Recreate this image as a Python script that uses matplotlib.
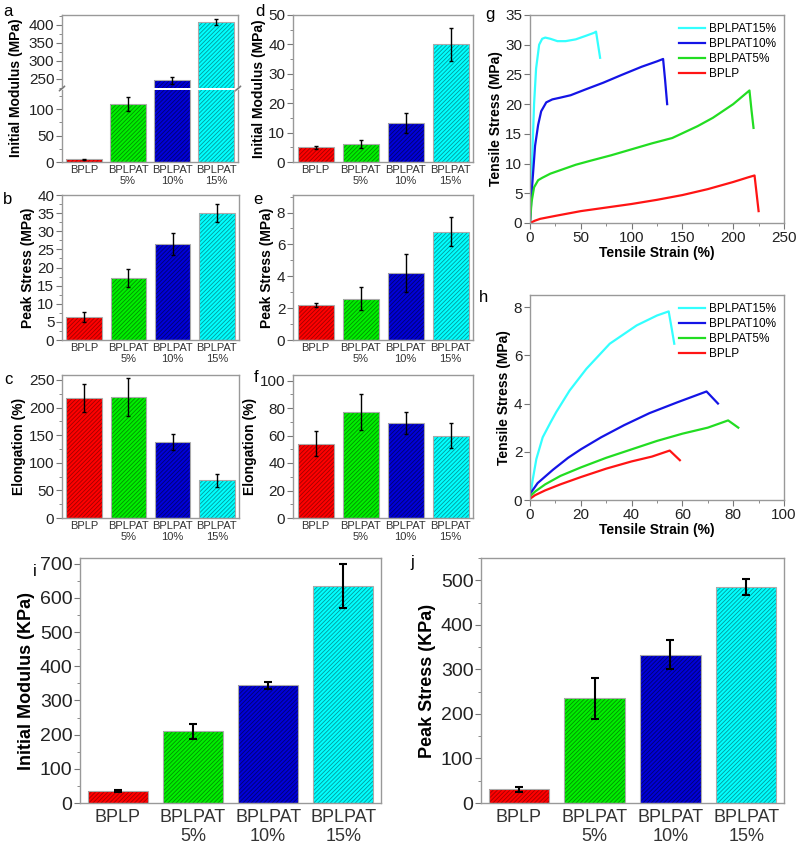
import matplotlib
matplotlib.use('Agg')
import matplotlib.pyplot as plt
from matplotlib.ticker import MultipleLocator

plt.rcParams['font.family'] = ['Liberation Sans', 'DejaVu Sans']
plt.rcParams['hatch.linewidth'] = 0.6

# ---- data ----
groups = ['BPLP', 'BPLPAT\n5%', 'BPLPAT\n10%', 'BPLPAT\n15%']
fill_colors = ['#ff0000', '#00ee00', '#0000d8', '#00ffff']
hatch_colors = ['#a00000', '#009000', '#000070', '#009a9a']

mod_mpa = [5, 110, 245, 408]          # a
mod_mpa_err = [1.5, 13, 10, 8]
stress_mpa = [6.3, 17.1, 26.4, 35.0]  # b
stress_mpa_err = [1.3, 2.6, 3.0, 2.5]
elong = [217, 219, 138, 68]           # c
elong_err = [25, 35, 15, 11]

mod_wet = [5.0, 6.2, 13.3, 40.0]      # d
mod_wet_err = [0.6, 1.3, 3.5, 5.5]
stress_wet = [2.2, 2.6, 4.2, 6.8]     # e
stress_wet_err = [0.15, 0.7, 1.2, 0.9]
elong_wet = [54, 77, 69, 60]          # f
elong_wet_err = [9, 13, 8, 9]

mod_kpa = [35, 210, 345, 635]         # i
mod_kpa_err = [4, 22, 10, 65]
stress_kpa = [31, 235, 333, 484]      # j
stress_kpa_err = [6, 46, 33, 18]

curve_names = ['BPLPAT15%', 'BPLPAT10%', 'BPLPAT5%', 'BPLP']
curve_colors = ['#33ffff', '#1414e6', '#22dd22', '#ff1414']

# g: dry tensile curves
g_strain_15 = [0, 2, 4, 6, 9, 12, 15, 20, 27, 35, 45, 55, 63, 65, 67, 69]
g_stress_15 = [0, 10, 20, 26, 30, 31, 31.2, 31.0, 30.6, 30.6, 30.9, 31.5, 32.0, 32.2, 30, 27.8]
g_strain_10 = [0, 2, 5, 8, 11, 16, 22, 30, 40, 55, 72, 90, 110, 125, 131, 133, 135]
g_stress_10 = [0, 6, 13, 16.5, 18.8, 20.3, 20.8, 21.1, 21.5, 22.5, 23.6, 24.9, 26.3, 27.2, 27.6, 24, 20]
g_strain_5 = [0, 1.5, 4, 8, 12, 20, 30, 45, 60, 80, 100, 120, 140, 165, 180, 200, 216, 218, 220]
g_stress_5 = [0, 3.5, 6, 7.2, 7.6, 8.3, 8.9, 9.8, 10.5, 11.4, 12.4, 13.4, 14.3, 16.3, 17.7, 20, 22.3, 19, 16]
g_strain_0 = [0, 5, 10, 25, 50, 75, 100, 125, 150, 175, 200, 215, 221, 223, 225]
g_stress_0 = [0, 0.4, 0.7, 1.2, 2.0, 2.6, 3.2, 3.9, 4.7, 5.7, 6.9, 7.7, 8.0, 5, 2]

# h: wet tensile curves
h_strain_15 = [0, 1, 2.5, 5, 8, 10.3, 15.6, 22.2, 31.4, 42, 50, 54.6, 55.8, 56.8]
h_stress_15 = [0, 0.8, 1.7, 2.6, 3.2, 3.64, 4.54, 5.44, 6.48, 7.24, 7.65, 7.82, 7.1, 6.48]
h_strain_10 = [0, 3, 9, 15, 20, 28, 37, 47, 58, 69.5, 74]
h_stress_10 = [0.25, 0.7, 1.25, 1.75, 2.1, 2.6, 3.1, 3.6, 4.05, 4.5, 4.0]
h_strain_5 = [0, 2, 6, 12, 20, 30, 40, 50, 60, 70, 78, 82]
h_stress_5 = [0.15, 0.35, 0.65, 1.0, 1.35, 1.75, 2.1, 2.45, 2.75, 3.0, 3.3, 3.0]
h_strain_0 = [0, 2, 6, 12, 20, 30, 40, 48, 55, 59]
h_stress_0 = [0.05, 0.2, 0.4, 0.65, 0.95, 1.3, 1.6, 1.8, 2.05, 1.65]

W, H = 800, 850
fig = plt.figure(figsize=(8, 8.5), dpi=100)


def box(l, t, r, b):
    return [l / W, 1 - b / H, (r - l) / W, (b - t) / H]


def style(ax, tsize=11):
    for s in ax.spines.values():
        s.set_color('#999999')
        s.set_linewidth(1.0)
    ax.tick_params(axis='y', which='major', direction='out', length=4, color='#777777',
                   labelsize=tsize, labelcolor='#222222', right=False, pad=1.5)
    ax.tick_params(axis='y', which='minor', direction='out', length=2, color='#777777', right=False)


def bars(ax, vals, errs, lw_err=1.0, cap=1.5, xsize=8, show_x=True, pad=2):
    x = range(len(vals))
    ax.bar(x, vals, width=0.8, color=fill_colors, edgecolor=hatch_colors,
           hatch='////////', linewidth=0, zorder=2)
    ax.bar(x, vals, width=0.8, fill=False, edgecolor='#aaaaaa', linewidth=0.8, zorder=3)
    ax.errorbar(x, vals, yerr=errs, fmt='none', ecolor='black', elinewidth=lw_err,
                capsize=cap, capthick=lw_err, zorder=4)
    ax.set_xlim(-0.5, 3.5)
    ax.set_xticks(list(x))
    if show_x:
        ax.set_xticklabels(groups, fontsize=xsize, color='#333333')
    else:
        ax.set_xticklabels([])
    ax.tick_params(axis='x', length=0, pad=pad)


def bar_panel(rect, vals, errs, ylim, major, minor, ylabel, **kw):
    ax = fig.add_axes(box(*rect))
    style(ax)
    bars(ax, vals, errs, **kw)
    ax.set_ylim(*ylim)
    ax.yaxis.set_major_locator(MultipleLocator(major))
    ax.yaxis.set_minor_locator(MultipleLocator(minor))
    ax.set_ylabel(ylabel, fontsize=10, fontweight='bold', labelpad=2)
    return ax


# a: broken axis
ax_top = fig.add_axes(box(62, 15, 238, 87.5))
ax_bot = fig.add_axes(box(62, 89.5, 238, 162))
for ax in (ax_top, ax_bot):
    style(ax)
    bars(ax, mod_mpa, mod_mpa_err, show_x=(ax is ax_bot))
    ax.yaxis.set_major_locator(MultipleLocator(50))
    ax.yaxis.set_minor_locator(MultipleLocator(25))
ax_top.set_ylim(225, 428)
ax_bot.set_ylim(0, 137)
ax_top.spines['bottom'].set_visible(False)
ax_bot.spines['top'].set_visible(False)
for xp in (0, 1):
    ax_top.plot([xp - 0.015, xp + 0.015], [-0.04, 0.02], transform=ax_top.transAxes,
                color='#777777', lw=0.8, clip_on=False)
    ax_bot.plot([xp - 0.015, xp + 0.015], [0.98, 1.04], transform=ax_bot.transAxes,
                color='#777777', lw=0.8, clip_on=False)
fig.text(16 / W, 1 - 88 / H, 'Initial Modulus (MPa)', rotation=90, fontsize=10,
         fontweight='bold', ha='center', va='center')

bar_panel((62, 195, 239, 340), stress_mpa, stress_mpa_err, (0, 40), 5, 2.5, 'Peak Stress (MPa)')
bar_panel((62, 375, 239, 518), elong, elong_err, (0, 259), 50, 25, 'Elongation (%)')
bar_panel((293, 15, 473, 162), mod_wet, mod_wet_err, (0, 50), 10, 5, 'Initial Modulus (MPa)')
bar_panel((293, 195, 473, 340), stress_wet, stress_wet_err, (0, 9.1), 2, 1, 'Peak Stress (MPa)')
bar_panel((293, 375, 473, 518), elong_wet, elong_wet_err, (0, 104), 20, 10, 'Elongation (%)')

# i, j: big bar charts
for rect, vals, errs, ylim, lab in [
        ((80, 558, 381, 803), mod_kpa, mod_kpa_err, (0, 717), 'Initial Modulus (KPa)'),
        ((481, 558, 784, 803), stress_kpa, stress_kpa_err, (0, 550), 'Peak Stress (KPa)')]:
    ax = fig.add_axes(box(*rect))
    style(ax, tsize=14)
    bars(ax, vals, errs, lw_err=1.5, cap=3, xsize=13, pad=4)
    ax.set_ylim(*ylim)
    ax.yaxis.set_major_locator(MultipleLocator(100))
    ax.yaxis.set_minor_locator(MultipleLocator(50))
    ax.set_ylabel(lab, fontsize=13, fontweight='bold', labelpad=3)

# g, h: tensile curves
for rect, curves, xlim, ylim, xmaj, ymaj in [
        ((530, 15, 784, 223),
         [(g_strain_15, g_stress_15), (g_strain_10, g_stress_10),
          (g_strain_5, g_stress_5), (g_strain_0, g_stress_0)],
         (0, 250), (0, 35), 50, 5),
        ((530, 295, 784, 500),
         [(h_strain_15, h_stress_15), (h_strain_10, h_stress_10),
          (h_strain_5, h_stress_5), (h_strain_0, h_stress_0)],
         (0, 100), (0, 8.5), 20, 2)]:
    ax = fig.add_axes(box(*rect))
    style(ax)
    for (xs, ys), c, name in zip(curves, curve_colors, curve_names):
        ax.plot(xs, ys, color=c, lw=1.6, label=name)
    ax.set_xlim(*xlim)
    ax.set_ylim(*ylim)
    ax.xaxis.set_major_locator(MultipleLocator(xmaj))
    ax.xaxis.set_minor_locator(MultipleLocator(xmaj / 2))
    ax.yaxis.set_major_locator(MultipleLocator(ymaj))
    ax.tick_params(axis='x', which='major', direction='out', length=4, color='#777777',
                   labelsize=11, labelcolor='#222222', top=False, pad=1.5)
    ax.tick_params(axis='x', which='minor', direction='out', length=2, color='#777777', top=False)
    ax.set_xlabel('Tensile Strain (%)', fontsize=10, fontweight='bold', labelpad=1)
    ax.set_ylabel('Tensile Stress (MPa)', fontsize=10, fontweight='bold', labelpad=2)
    ax.legend(loc='upper right', frameon=False, fontsize=8.5, handlelength=2.2,
              handletextpad=0.3, labelspacing=0.25, borderaxespad=0.3)

# panel letters
for lx, ly, letter in [(8, 12, 'a'), (260, 12, 'd'), (490, 14, 'g'),
                       (8, 200, 'b'), (258, 200, 'e'), (8, 380, 'c'),
                       (256, 378, 'f'), (484, 298, 'h'), (35, 572, 'i'), (412, 563, 'j')]:
    fig.text(lx / W, 1 - ly / H, letter, fontsize=12, ha='center', va='center')

fig.savefig('out.png', dpi=100)
